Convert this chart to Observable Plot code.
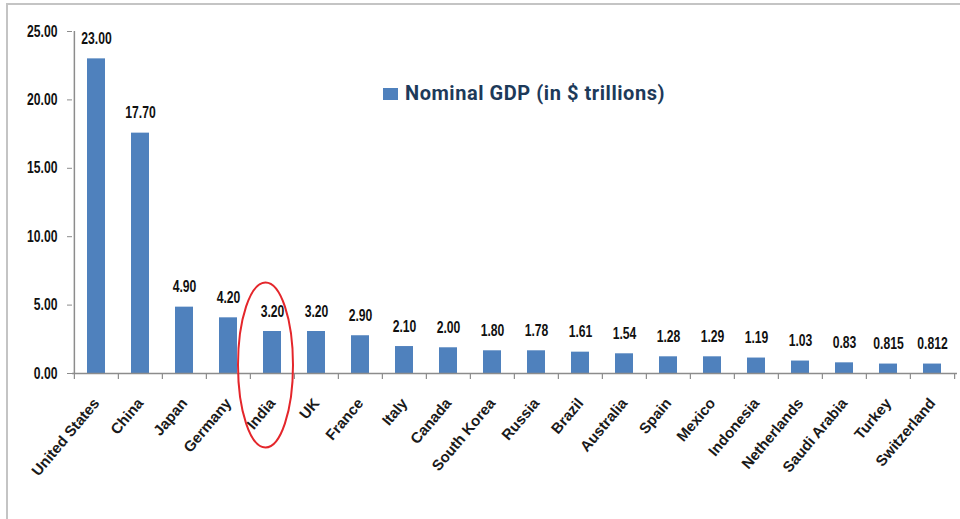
<!DOCTYPE html>
<html><head><meta charset="utf-8">
<script src="https://cdn.jsdelivr.net/npm/d3@7"></script>
<script src="https://cdn.jsdelivr.net/npm/@observablehq/plot@0.6"></script>
<style>
html,body{margin:0;padding:0;background:#fff;width:960px;height:519px;overflow:hidden;position:relative}
#frame{position:absolute;left:6px;top:3px;width:1000px;height:600px;border-top:2px solid #c4c4c4;border-left:2px solid #c4c4c4;box-sizing:border-box}
#chart{position:absolute;left:0;top:0}
#legend-swatch{position:absolute;left:383px;top:88px;width:15px;height:12px;background:#4F81BD}
#legend-text{position:absolute;left:405px;top:83px;font-family:Roboto,'Liberation Sans',sans-serif;font-weight:700;font-size:20px;line-height:20px;letter-spacing:0.55px;color:#1d3a5a;white-space:nowrap}
</style>
</head><body>
<div id="frame"></div>
<div id="chart"></div>
<div id="legend-swatch"></div>
<div id="legend-text"></div>
<script>
const countries = ["United States","China","Japan","Germany","India","UK","France","Italy","Canada","South Korea","Russia","Brazil","Australia","Spain","Mexico","Indonesia","Netherlands","Saudi Arabia","Turkey","Switzerland"];
const gdp = [23.0, 17.57, 4.85, 4.07, 3.07, 3.07, 2.76, 1.97, 1.88, 1.66, 1.66, 1.56, 1.44, 1.22, 1.22, 1.13, 0.91, 0.78, 0.69, 0.69];
const valueLabels = ["23.00","17.70","4.90","4.20","3.20","3.20","2.90","2.10","2.00","1.80","1.78","1.61","1.54","1.28","1.29","1.19","1.03","0.83","0.815","0.812"];
const yTicks = [0, 5, 10, 15, 20, 25];
const highlighted = ["India"];
const seriesName = "Nominal GDP (in $ trillions)";

document.getElementById("legend-text").textContent = seriesName;

const data = countries.map((c, i) => ({country: c, value: gdp[i], label: valueLabels[i]}));
const W = 960, H = 519, mL = 72, mR = 3, mT = 31, mB = 146;
const step = (W - mL - mR) / countries.length;
const narrow = "'Liberation Sans Narrow','Arial Narrow','Liberation Sans',Arial,sans-serif";
const bold = "'Liberation Sans',Arial,sans-serif";
const axisGray = "#8c8c8c";
const squeeze = 0.76;

const ellipseMark = (index, scales) => {
  const x = scales.x, y = scales.y;
  let bw = x.bandwidth;
  if (typeof bw === "function") bw = bw();
  if (bw == null || isNaN(bw)) bw = step * 0.41;
  const g = d3.create("svg:g");
  for (const c of highlighted) {
    g.append("ellipse")
      .attr("cx", x(c) + bw / 2 - 6.5)
      .attr("cy", y(0) - 8)
      .attr("rx", 27.5)
      .attr("ry", 82.5)
      .attr("fill", "none")
      .attr("stroke", "#e4262b")
      .attr("stroke-width", 2);
  }
  return g.node();
};

const chart = Plot.plot({
  width: W, height: H,
  marginLeft: mL, marginRight: mR, marginTop: mT, marginBottom: mB,
  style: {background: "transparent", fontFamily: bold, color: "#1a1a1a", overflow: "visible"},
  x: {domain: countries, paddingInner: 0.59, paddingOuter: 0.295, label: null},
  y: {domain: [0, 25], label: null},
  marks: [
    Plot.barY(data, {x: "country", y: "value", fill: "#4F81BD"}),
    Plot.ruleY([0], {stroke: axisGray, strokeWidth: 1.5}),
    Plot.ruleX([countries[0]], {x: d => d, dx: -step / 2, y1: 0, y2: 25, stroke: axisGray, strokeWidth: 1.5}),
    Plot.ruleX(countries, {x: d => d, dx: -step / 2, y1: 0, y2: 0, insetBottom: -6, stroke: axisGray, strokeWidth: 1.2}),
    Plot.ruleX([countries[countries.length - 1]], {x: d => d, dx: step / 2, y1: 0, y2: 0, insetBottom: -6, stroke: axisGray, strokeWidth: 1.2}),
    Plot.axisY({ticks: yTicks, tickFormat: d3.format(".2f"), tickSize: 5, tickPadding: 10, fontSize: 16, fontWeight: "bold", fontFamily: narrow, stroke: axisGray, fill: "#111", label: null}),
    Plot.axisX({tickSize: 0, tickPadding: 27, tickRotate: -50, fontSize: 15, fontWeight: "bold", fill: "#1a1a1a", label: null}),
    Plot.text(data, {x: "country", y: "value", text: "label", dy: -20, fontSize: 16, fontWeight: "bold", fontFamily: narrow, fill: "#111"}),
    ellipseMark
  ]
});

// condense the narrow-font texts horizontally (no narrow face installed)
chart.querySelectorAll("g[font-family]").forEach(g => {
  if (g.getAttribute("font-family") !== narrow) return;
  g.querySelectorAll("text").forEach(t => {
    const tr = t.getAttribute("transform");
    if (tr) {
      t.setAttribute("transform", tr + ` scale(${squeeze},1)`);
    } else {
      const x = +t.getAttribute("x") || 0, y = +t.getAttribute("y") || 0;
      t.removeAttribute("x"); t.removeAttribute("y");
      t.setAttribute("transform", `translate(${x},${y}) scale(${squeeze},1)`);
    }
  });
});
document.getElementById("chart").appendChild(chart);
</script>
</body></html>
